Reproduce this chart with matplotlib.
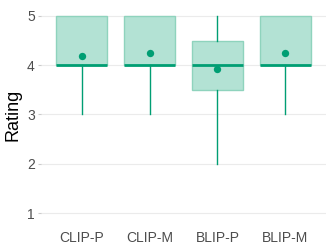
import matplotlib
matplotlib.use("Agg")
import matplotlib.pyplot as plt

categories = ["CLIP-P", "CLIP-M", "BLIP-P", "BLIP-M"]
whislo = [3, 3, 2, 3]
q1 = [4, 4, 3.5, 4]
med = [4, 4, 4, 4]
q3 = [5, 5, 4.5, 5]
whishi = [5, 5, 5, 5]
means = [4.19, 4.24, 3.93, 4.25]
yticks = [1, 2, 3, 4, 5]

plt.rcParams['font.family'] = ['Liberation Sans', 'DejaVu Sans']
fig = plt.figure(figsize=(3.32, 2.49), dpi=100)
ax = fig.add_axes([0.1235, 0.1044, 0.8585, 0.8716])

green = "#009E73"
stats = []
for i, c in enumerate(categories):
    stats.append(dict(label=c, whislo=whislo[i], q1=q1[i], med=med[i], q3=q3[i],
                      whishi=whishi[i], fliers=[]))
pos = list(range(1, len(categories) + 1))
ax.bxp(stats, positions=pos, widths=0.75, patch_artist=True, showcaps=False,
       boxprops=dict(facecolor="#b3e2d4", edgecolor="#8fd3bd", linewidth=1.0),
       medianprops=dict(color=green, linewidth=2.0, solid_capstyle='butt'),
       whiskerprops=dict(color=green, linewidth=1.0), zorder=3)
ax.scatter(pos, means, s=28, color=green, zorder=5, linewidths=0)

ax.set_xlim(0.4, len(categories) + 0.6)
ax.set_ylim(0.8, 5.2)
ax.set_yticks(yticks)
ax.set_yticklabels([str(t) for t in yticks])
ax.set_xticks(pos)
ax.set_xticklabels(categories)
ax.grid(axis='y', color="#ebebeb", linewidth=0.8, zorder=0)
ax.set_axisbelow(True)
for s in ax.spines.values():
    s.set_visible(False)
ax.tick_params(axis='y', length=2.5, color="#cccccc", labelsize=10, labelcolor="#4d4d4d", pad=2)
ax.tick_params(axis='x', length=0, labelsize=10, labelcolor="#4d4d4d", pad=6)
ax.set_ylabel("Rating", fontsize=13, labelpad=4)
fig.savefig("out.png", dpi=100)
